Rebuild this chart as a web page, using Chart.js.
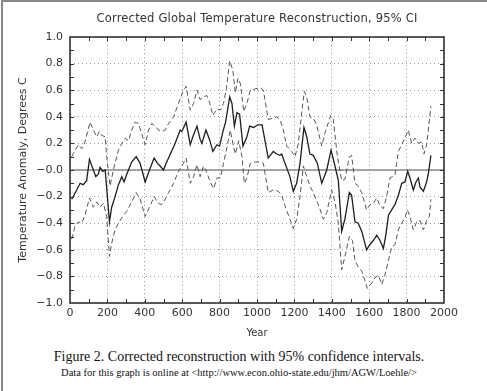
<!DOCTYPE html>
<html>
<head>
<meta charset="utf-8">
<script src="https://cdn.jsdelivr.net/npm/chart.js@4.4.1/dist/chart.umd.min.js"></script>
<style>
    body { margin: 0; background: #fff; }
    #wrap { position: relative; width: 487px; height: 391px; background: #fff; overflow: hidden; }
    #frame { position: absolute; left: 1px; top: 0; width: 486px; height: 391px;
             border-left: 2px solid #888; border-top: 2px solid #888; box-sizing: border-box; }
    #chart { position: absolute; left: 0; top: 0; }
    #title { position: absolute; left: 57px; width: 400px; top: 11px; text-align: center;
             font: 11.5px "DejaVu Sans", sans-serif; color: #333; letter-spacing: 0.2px; }
    .cap { position: absolute; left: 0; width: 478px; text-align: center;
           font-family: "Liberation Serif", "Times New Roman", serif; color: #111; }
    #cap1 { top: 349px; font-size: 14px; }
    #cap2 { top: 367px; font-size: 10.5px; }
</style>
</head>
<body>
<div id="wrap">
    <div id="frame"></div>
    <canvas id="chart" width="487" height="345"></canvas>
    <div id="title">Corrected Global Temperature Reconstruction, 95% CI</div>
    <div class="cap" id="cap1">Figure 2. Corrected reconstruction with 95% confidence intervals.</div>
    <div class="cap" id="cap2">Data for this graph is online at &lt;http://www.econ.ohio-state.edu/jhm/AGW/Loehle/&gt;</div>
</div>

<script>
// ================= DATA =================

const meanYears = [9,36,54,71,89,104,125,138,152,161,175,188,196,211,223,241,259,277,289,304,330,354,375,402,425,450,468,482,500,514,527,562,589,598,621,643,657,679,696,705,727,746,764,786,800,818,832,854,866,879,893,907,925,946,961,982,1004,1027,1060,1087,1105,1123,1132,1150,1176,1194,1212,1230,1251,1266,1283,1301,1323,1346,1373,1396,1417,1435,1453,1470,1494,1506,1524,1541,1560,1586,1604,1622,1640,1658,1676,1690,1703,1720,1738,1756,1774,1791,1806,1818,1836,1850,1863,1872,1890,1907,1916,1930];
const meanValues = [-0.22,-0.15,-0.10,-0.11,-0.08,0.08,0.00,-0.05,-0.03,0.02,-0.01,0.00,-0.13,-0.39,-0.28,-0.20,-0.11,-0.05,-0.09,-0.03,0.06,0.10,0.05,-0.09,0.00,0.09,0.05,0.03,0.00,0.05,0.09,0.20,0.30,0.29,0.36,0.19,0.25,0.33,0.23,0.20,0.30,0.23,0.14,0.19,0.18,0.29,0.36,0.55,0.50,0.33,0.43,0.42,0.18,0.25,0.33,0.32,0.34,0.34,0.09,0.14,0.12,0.11,0.12,0.05,-0.05,-0.16,-0.10,0.05,0.32,0.25,0.12,0.11,0.05,-0.10,0.00,0.15,0.03,-0.08,-0.46,-0.37,-0.17,-0.19,-0.39,-0.40,-0.46,-0.60,-0.56,-0.53,-0.49,-0.53,-0.59,-0.48,-0.34,-0.30,-0.26,-0.19,-0.10,-0.09,-0.01,-0.06,-0.15,-0.09,-0.06,-0.13,-0.16,-0.09,-0.03,0.11];

const upperYears = [9,27,45,63,80,107,125,143,157,170,188,196,214,232,259,277,295,313,330,348,366,384,402,420,437,455,473,491,509,527,554,580,604,621,643,661,679,696,714,732,746,764,786,804,821,836,854,871,884,898,911,929,946,964,991,1016,1034,1060,1087,1105,1123,1141,1159,1185,1203,1221,1239,1253,1266,1283,1301,1319,1346,1364,1394,1408,1430,1453,1470,1494,1506,1524,1541,1560,1586,1604,1622,1640,1658,1676,1693,1711,1738,1756,1774,1791,1809,1827,1845,1863,1881,1893,1907,1916,1930];
const upperValues = [0.10,0.15,0.19,0.16,0.21,0.36,0.30,0.25,0.29,0.26,0.25,0.10,-0.12,0.00,0.15,0.20,0.24,0.22,0.30,0.36,0.35,0.27,0.19,0.30,0.35,0.33,0.30,0.29,0.30,0.35,0.40,0.50,0.59,0.63,0.45,0.50,0.60,0.53,0.55,0.56,0.51,0.41,0.46,0.45,0.50,0.61,0.82,0.75,0.58,0.69,0.65,0.44,0.50,0.60,0.61,0.62,0.60,0.38,0.39,0.40,0.38,0.30,0.18,0.14,0.10,0.20,0.43,0.59,0.55,0.40,0.39,0.34,0.18,0.28,0.41,0.38,0.10,-0.08,-0.07,0.10,0.11,-0.10,-0.12,-0.17,-0.30,-0.26,-0.25,-0.21,-0.27,-0.29,-0.20,-0.06,-0.04,0.14,0.19,0.24,0.30,0.20,0.24,0.20,0.21,0.12,0.19,0.30,0.48];

const lowerYears = [9,27,45,63,80,104,125,143,161,179,196,211,223,241,259,277,304,330,354,375,402,425,450,473,491,509,527,554,580,598,621,643,661,679,696,714,732,750,768,786,804,821,839,857,871,884,902,920,932,946,964,991,1018,1034,1060,1087,1114,1132,1150,1176,1194,1212,1230,1248,1266,1283,1301,1328,1355,1373,1399,1417,1435,1453,1470,1494,1511,1524,1541,1560,1577,1590,1613,1631,1649,1667,1684,1703,1720,1738,1756,1774,1791,1804,1818,1836,1854,1872,1890,1907,1922,1930];
const lowerValues = [-0.52,-0.42,-0.39,-0.40,-0.34,-0.21,-0.28,-0.24,-0.28,-0.25,-0.35,-0.65,-0.55,-0.45,-0.40,-0.36,-0.31,-0.24,-0.17,-0.22,-0.35,-0.28,-0.20,-0.25,-0.26,-0.22,-0.17,-0.10,-0.01,0.03,0.09,-0.10,-0.05,0.04,-0.05,0.03,-0.02,-0.09,-0.14,-0.06,-0.06,0.05,0.17,0.30,0.20,0.12,0.22,0.10,-0.10,-0.06,0.05,0.06,0.06,0.05,-0.17,-0.15,-0.16,-0.19,-0.27,-0.37,-0.44,-0.37,-0.20,0.03,-0.05,-0.12,-0.17,-0.26,-0.37,-0.32,-0.15,-0.24,-0.40,-0.75,-0.65,-0.50,-0.53,-0.68,-0.73,-0.76,-0.83,-0.89,-0.85,-0.81,-0.79,-0.86,-0.79,-0.68,-0.58,-0.56,-0.45,-0.40,-0.36,-0.30,-0.35,-0.45,-0.39,-0.38,-0.45,-0.38,-0.35,-0.22];

// tick labels (bottom to top for y)
const xTickLabels = ["0","200","400","600","800","1000","1200","1400","1600","1800","2000"];
const yTickLabels = ["\u22121.0","\u22120.8","\u22120.6","\u22120.4","\u22120.2","\u22120.0","0.2","0.4","0.6","0.8","1.0"];

// ================= CHART =================

function toPoints(xs, ys) {
    return xs.map((x, i) => ({x: x, y: ys[i]}));
}

const tickFont = {family: "DejaVu Sans", size: 11};

// frame, minor ticks and the zero line
const framePlugin = {
    id: "frame",
    beforeDatasetsDraw(chart) {
        const {ctx, chartArea: a, scales: {y}} = chart;
        ctx.save();
        ctx.strokeStyle = "#8a8a8a";
        ctx.lineWidth = 1.5;
        let y0 = y.getPixelForValue(0);
        ctx.beginPath();
        ctx.moveTo(a.left, y0);
        ctx.lineTo(a.right, y0);
        ctx.stroke();
        ctx.restore();
    },
    afterDraw(chart) {
        const {ctx, chartArea: a, scales: {x, y}} = chart;
        ctx.save();
        ctx.strokeStyle = "#333";
        ctx.lineWidth = 1;
        ctx.beginPath();
        for (let yr = 100; yr < 2000; yr += 100) {
            let px = Math.round(x.getPixelForValue(yr)) + 0.5;
            ctx.moveTo(px, a.bottom); ctx.lineTo(px, a.bottom - 4);
            ctx.moveTo(px, a.top); ctx.lineTo(px, a.top + 4);
        }
        for (let v = -9; v <= 9; v++) {
            let py = Math.round(y.getPixelForValue(v / 10)) + 0.5;
            ctx.moveTo(a.left, py); ctx.lineTo(a.left + 4, py);
            ctx.moveTo(a.right, py); ctx.lineTo(a.right - 4, py);
        }
        ctx.stroke();
        ctx.lineWidth = 1.6;
        ctx.strokeStyle = "#333";
        ctx.strokeRect(a.left, a.top, a.right - a.left, a.bottom - a.top);
        ctx.restore();
    }
};

new Chart(document.getElementById("chart"), {
    type: "line",
    data: {
        datasets: [
            {
                label: "Reconstruction",
                data: toPoints(meanYears, meanValues),
                borderColor: "#1e1e1e",
                borderWidth: 1.3,
                pointRadius: 0,
                tension: 0
            },
            {
                label: "Upper 95% CI",
                data: toPoints(upperYears, upperValues),
                borderColor: "#555",
                borderWidth: 1,
                borderDash: [5, 3],
                pointRadius: 0,
                tension: 0
            },
            {
                label: "Lower 95% CI",
                data: toPoints(lowerYears, lowerValues),
                borderColor: "#555",
                borderWidth: 1,
                borderDash: [5, 3],
                pointRadius: 0,
                tension: 0
            }
        ]
    },
    options: {
        responsive: false,
        animation: false,
        layout: {padding: {top: 37, right: 43, left: 0, bottom: 0}},
        plugins: {
            legend: {display: false},
            tooltip: {enabled: false}
        },
        scales: {
            x: {
                type: "linear",
                min: 0,
                max: 2000,
                afterFit(scale) { scale.height = 42; },
                afterBuildTicks(scale) {
                    scale.ticks = xTickLabels.map(t => ({value: Number(t)}));
                },
                ticks: {
                    font: tickFont,
                    color: "#333",
                    padding: 4,
                    maxRotation: 0,
                    callback: (v, i) => xTickLabels[i]
                },
                grid: {
                    drawTicks: false,
                    color: "#9a9a9a",
                    lineWidth: 1
                },
                border: {display: false, dash: [1, 3]},
                title: {
                    display: true,
                    text: "Year",
                    font: {family: "DejaVu Sans", size: 10},
                    color: "#333",
                    padding: {top: 0, bottom: 6}
                }
            },
            y: {
                min: -1,
                max: 1,
                afterFit(scale) { scale.width = 70; },
                afterBuildTicks(scale) {
                    scale.ticks = yTickLabels.map((t, i) => ({value: -1 + i * 0.2}));
                },
                ticks: {
                    font: tickFont,
                    color: "#333",
                    padding: 7,
                    callback: (v, i) => yTickLabels[i]
                },
                grid: {
                    drawTicks: false,
                    color: "#9a9a9a",
                    lineWidth: 1
                },
                border: {display: false, dash: [1, 3]},
                title: {
                    display: true,
                    text: "Temperature Anomaly, Degrees C",
                    font: {family: "DejaVu Sans", size: 11},
                    color: "#333",
                    padding: {top: 17, bottom: 0}
                }
            }
        }
    },
    plugins: [framePlugin]
});
</script>
</body>
</html>
